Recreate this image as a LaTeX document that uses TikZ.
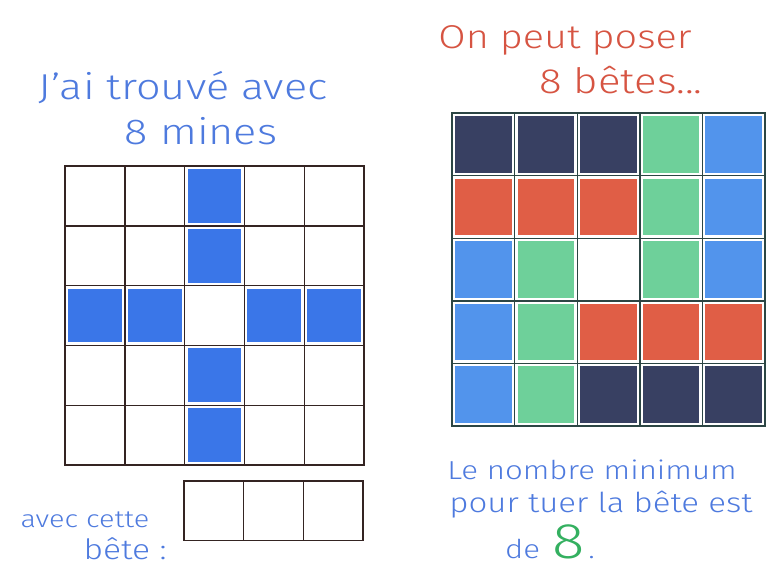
\documentclass[tikz,border=0pt]{standalone}
\usepackage{fontspec}
\newfontfamily\handfont{Fira Sans Light}[FakeStretch=1.2]
\usetikzlibrary{positioning}

\definecolor{inkblue}{RGB}{78,122,222}
\definecolor{inkred}{RGB}{214,84,66}
\definecolor{inkgreen}{RGB}{52,176,96}
\definecolor{mineblue}{RGB}{58,118,232}
\definecolor{beastnavy}{RGB}{56,64,98}
\definecolor{beastred}{RGB}{224,94,70}
\definecolor{beastgreen}{RGB}{110,208,154}
\definecolor{beastblue}{RGB}{82,148,236}
\definecolor{leftline}{RGB}{52,36,34}
\definecolor{rightline}{RGB}{44,70,68}

\tikzset{
  handtext/.style={font=\handfont\fontsize{36}{40}\selectfont, inner sep=0pt},
  handred/.style={font=\handfont\fontsize{33}{38}\selectfont, inner sep=0pt, text=inkred},
  handsmall/.style={font=\handfont\fontsize{26}{30}\selectfont, inner sep=0pt},
  gridline/.style={line width=1.4pt, line cap=rect}
}

\begin{document}
\begin{tikzpicture}[x=1pt, y=-1pt]
  \useasboundingbox (0,0) rectangle (783,571);

  % Left grid: origin and cell size
  \def\lx{65}
  \def\ly{166}
  \def\lcell{59.8}
  % Mines of the left grid
  \foreach \r/\c in {0/2,1/2,2/0,2/1,2/3,2/4,3/2,4/2} {
    \fill[mineblue] ({\lx+\c*\lcell+3},{\ly+\r*\lcell+3}) rectangle +(\lcell-6,\lcell-6);
  }
  % Lines of the left grid
  \foreach \k in {0,...,5} {
    \draw[gridline, leftline] ({\lx+\k*\lcell},\ly) -- +(0,5*\lcell);
    \draw[gridline, leftline] (\lx,{\ly+\k*\lcell}) -- +(5*\lcell,0);
  }

  % Right grid: origin and cell size
  \def\rx{452}
  \def\ry{113}
  \def\rcell{62.6}
  % Beasts of the right grid
  \foreach \r/\c/\col in {0/0/beastnavy,0/1/beastnavy,0/2/beastnavy,0/3/beastgreen,0/4/beastblue,
                          1/0/beastred,1/1/beastred,1/2/beastred,1/3/beastgreen,1/4/beastblue,
                          2/0/beastblue,2/1/beastgreen,2/3/beastgreen,2/4/beastblue,
                          3/0/beastblue,3/1/beastgreen,3/2/beastred,3/3/beastred,3/4/beastred,
                          4/0/beastblue,4/1/beastgreen,4/2/beastnavy,4/3/beastnavy,4/4/beastnavy} {
    \fill[\col] ({\rx+\c*\rcell+3},{\ry+\r*\rcell+3}) rectangle +(\rcell-6,\rcell-6);
  }
  % Lines of the right grid
  \foreach \k in {0,...,5} {
    \draw[gridline, rightline] ({\rx+\k*\rcell},\ry) -- +(0,5*\rcell);
    \draw[gridline, rightline] (\rx,{\ry+\k*\rcell}) -- +(5*\rcell,0);
  }

  % Empty beast shape below the left grid
  \def\bx{184}
  \def\by{481}
  \def\bcell{59.7}
  \foreach \c in {0,1,2} {
    \draw[gridline, leftline] ({\bx+\c*\bcell},\by) rectangle +(\bcell,\bcell);
  }

  % Handwritten texts
  \node[handtext, text=inkblue] (found1) at (183,88) {J’ai trouvé avec};
  \node[handtext, text=inkblue] (found2) at (201,131) {8 mines};
  \node[handred] (place1) at (565,40) {On peut poser};
  \node[handred, font=\handfont\fontsize{35}{40}\selectfont] (place2) at (621,80) {8 bêtes...};
  \node[handsmall, text=inkblue, font=\handfont\fontsize{24}{28}\selectfont] (shape1) at (85,520) {avec cette};
  \node[handsmall, text=inkblue, font=\handfont\fontsize{28}{32}\selectfont] (shape2) at (125,549) {bête :};
  \node[handsmall, text=inkblue] (least1) at (592,470) {Le nombre minimum};
  \node[handsmall, text=inkblue, font=\handfont\fontsize{27.5}{32}\selectfont] (least2) at (601,505) {pour tuer la bête est};
  \node[handsmall, text=inkblue, anchor=base west] (least3) at (505,558)
    {de\hspace{12pt}\textcolor{inkgreen}{\fontsize{50}{50}\selectfont 8}\hspace{4pt}.};
\end{tikzpicture}
\end{document}
